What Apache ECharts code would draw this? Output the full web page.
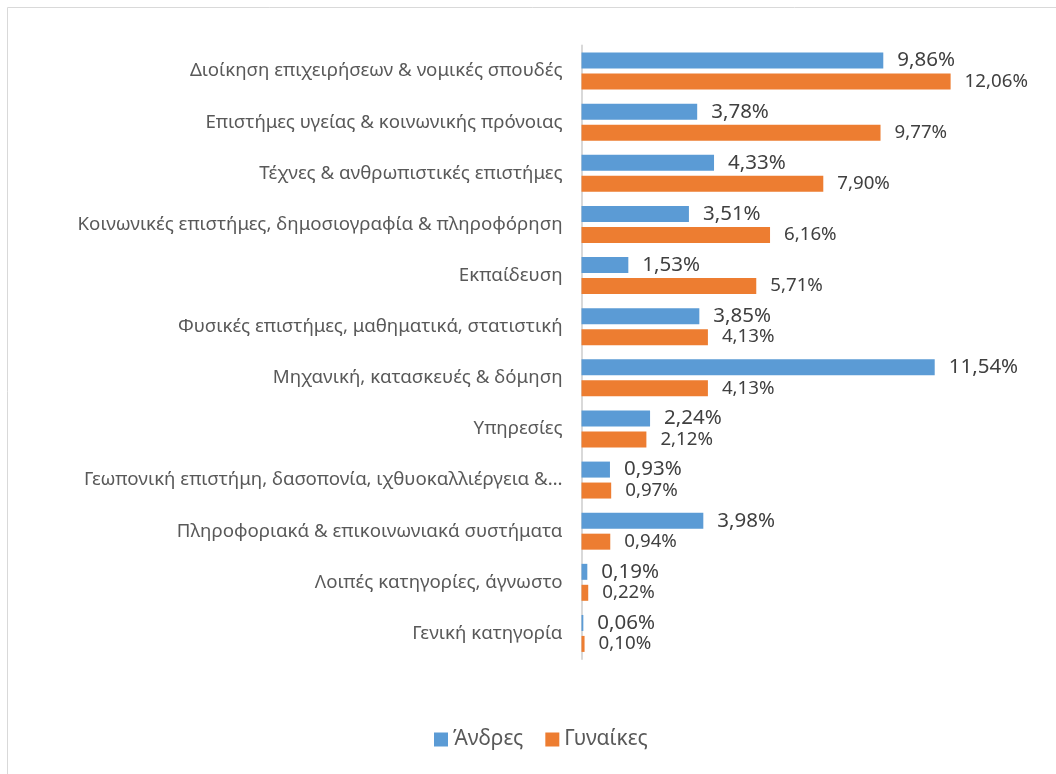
<!DOCTYPE html>
<html>
<head>
<meta charset="utf-8">
<script src="https://cdn.jsdelivr.net/npm/echarts@6/dist/echarts.min.js"></script>
<style>
  html, body { margin: 0; padding: 0; background: #fff; overflow: hidden; }
  #chart { width: 1056px; height: 774px; }
</style>
</head>
<body>
<div id="chart"></div>
<script>
// categories, top to bottom
const categories = [
  "Διοίκηση επιχειρήσεων & νομικές σπουδές",
  "Επιστήμες υγείας & κοινωνικής πρόνοιας",
  "Τέχνες & ανθρωπιστικές επιστήμες",
  "Κοινωνικές επιστήμες, δημοσιογραφία & πληροφόρηση",
  "Εκπαίδευση",
  "Φυσικές επιστήμες, μαθηματικά, στατιστική",
  "Μηχανική, κατασκευές & δόμηση",
  "Υπηρεσίες",
  "Γεωπονική επιστήμη, δασοπονία, ιχθυοκαλλιέργεια &…",
  "Πληροφοριακά & επικοινωνιακά συστήματα",
  "Λοιπές κατηγορίες, άγνωστο",
  "Γενική κατηγορία"
];
const men = [9.86, 3.78, 4.33, 3.51, 1.53, 3.85, 11.54, 2.24, 0.93, 3.98, 0.19, 0.06];
const women = [12.06, 9.77, 7.90, 6.16, 5.71, 4.13, 4.13, 2.12, 0.97, 0.94, 0.22, 0.10];

const fontFamily = "'Noto Sans', sans-serif";
const fmt = (p) => p.value.toFixed(2).replace(".", ",") + "%";

const chart = echarts.init(document.getElementById("chart"));
chart.setOption({
  animation: false,
  textStyle: { fontFamily: fontFamily },
  graphic: [{
    type: "rect",
    shape: { x: 7.5, y: 7.5, width: 1200, height: 1000 },
    style: { fill: "none", stroke: "#d9d9d9", lineWidth: 1 },
    silent: true
  }],
  grid: { left: 581.5, right: 46, top: 45.5, bottom: 115, containLabel: false },
  legend: {
    bottom: 19,
    left: 429,
    itemWidth: 14,
    itemHeight: 14,
    itemGap: 22,
    icon: "rect",
    textStyle: { color: "#595959", fontSize: 21, fontFamily: fontFamily }
  },
  xAxis: {
    type: "value",
    min: 0,
    max: 14,
    show: false
  },
  yAxis: {
    type: "category",
    data: categories,
    inverse: true,
    axisTick: { show: false },
    axisLine: { lineStyle: { color: "#d9d9d9", width: 2 } },
    axisLabel: { color: "#595959", fontSize: 18.7, margin: 19 }
  },
  series: [
    {
      name: "Άνδρες",
      type: "bar",
      data: men,
      barWidth: 16,
      barGap: "31%",
      itemStyle: { color: "#5B9BD5" },
      label: {
        show: true,
        position: "right",
        distance: 14,
        color: "#404040",
        fontSize: 20.5,
        formatter: fmt
      }
    },
    {
      name: "Γυναίκες",
      type: "bar",
      data: women,
      barWidth: 16,
      barGap: "31%",
      itemStyle: { color: "#ED7D31" },
      label: {
        show: true,
        position: "right",
        distance: 14,
        color: "#404040",
        fontSize: 18.7,
        formatter: fmt
      }
    }
  ]
});
</script>
</body>
</html>
